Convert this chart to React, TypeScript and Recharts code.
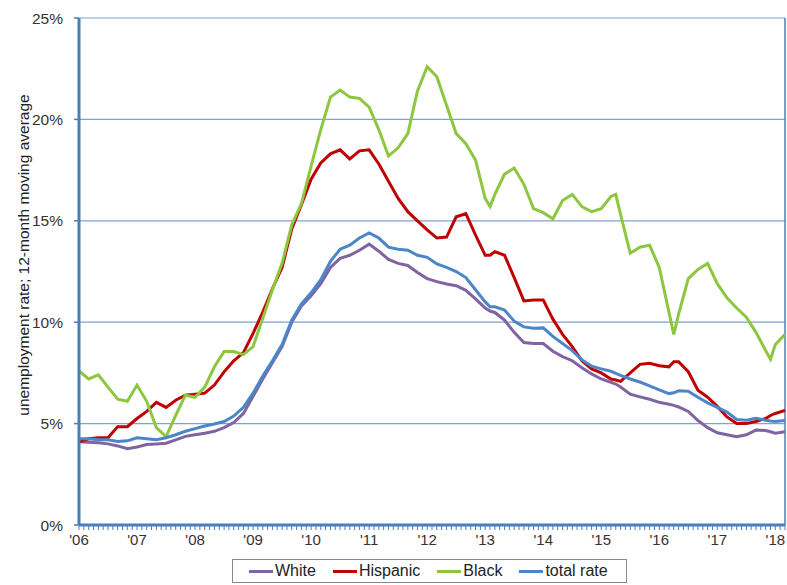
import React from "react";
import {
  LineChart,
  Line,
  XAxis,
  YAxis,
  CartesianGrid,
  Legend,
  Label,
  ReferenceLine
} from "recharts";

// months since Jan 2006 (sampled every 2 months, with a few extra points at sharp turns)
const months = [
  0, 2, 4, 6, 8, 10, 12, 14, 16, 18, 20, 22, 24, 26, 28, 30, 32, 34, 36, 38,
  40, 42, 44, 46, 48, 50, 52, 54, 56, 58, 60, 62, 64, 66, 68, 70, 72, 74, 76, 78,
  80, 82, 84, 85, 86, 88, 90, 92, 94, 96, 98, 100, 102, 104, 106, 108, 110, 111,
  112, 114, 116, 118, 120, 122, 123, 124, 126, 128, 130, 132, 134, 136, 138, 140,
  142, 143, 144, 146
];

const white = [
  4.1, 4.08, 4.05, 4.0, 3.9, 3.76, 3.85, 3.97, 4.0, 4.03, 4.2, 4.37, 4.45, 4.52, 4.62, 4.8, 5.05, 5.5, 6.35, 7.2,
  8.0, 8.8, 10.0, 10.8, 11.3, 11.9, 12.7, 13.15, 13.3, 13.55, 13.85, 13.5, 13.1, 12.9, 12.8, 12.45, 12.15, 12.0, 11.88, 11.8,
  11.57, 11.15, 10.7, 10.55, 10.48, 10.1, 9.5, 9.0, 8.95, 8.95, 8.57, 8.3, 8.1, 7.75, 7.45, 7.2, 7.03, 6.95,
  6.8, 6.45, 6.32, 6.2, 6.05, 5.95, 5.9, 5.82, 5.6, 5.15, 4.8, 4.55, 4.45, 4.35, 4.45, 4.68,
  4.66, 4.6, 4.53, 4.6
];

const hispanic = [
  4.1, 4.25, 4.3, 4.3, 4.85, 4.85, 5.25, 5.6, 6.05, 5.8, 6.15, 6.4, 6.45, 6.5, 6.9, 7.55, 8.1, 8.5, 9.45, 10.5,
  11.65, 12.7, 14.6, 15.8, 17.05, 17.85, 18.3, 18.5, 18.05, 18.45, 18.5, 17.8, 16.95, 16.1, 15.45, 15.0, 14.55, 14.15, 14.2, 15.2,
  15.35, 14.3, 13.3, 13.3, 13.48, 13.3, 12.2, 11.05, 11.1, 11.1, 10.15, 9.4, 8.8, 8.1, 7.7, 7.5, 7.2, 7.15,
  7.08, 7.5, 7.92, 7.97, 7.85, 7.8, 8.05, 8.05, 7.56, 6.65, 6.3, 5.85, 5.33, 5.0, 5.0, 5.1,
  5.25, 5.4, 5.5, 5.65
];

const black = [
  7.6, 7.2, 7.4, 6.8, 6.2, 6.1, 6.9, 6.1, 4.8, 4.35, 5.4, 6.4, 6.3, 6.8, 7.8, 8.55, 8.55, 8.4, 8.8, 10.2,
  11.6, 12.9, 14.8, 15.85, 17.7, 19.5, 21.1, 21.45, 21.1, 21.04, 20.6, 19.5, 18.2, 18.6, 19.3, 21.4, 22.6, 22.1, 20.7, 19.3,
  18.8, 18.0, 16.1, 15.7, 16.3, 17.3, 17.6, 16.8, 15.6, 15.4, 15.1, 16.0, 16.3, 15.7, 15.45, 15.6, 16.2, 16.3,
  15.3, 13.4, 13.7, 13.8, 12.7, 10.5, 9.4, 10.4, 12.15, 12.6, 12.9, 11.9, 11.2, 10.7, 10.25, 9.5,
  8.6, 8.17, 8.9, 9.4
];

const total = [
  4.25, 4.25, 4.2, 4.2, 4.12, 4.15, 4.3, 4.25, 4.2, 4.3, 4.45, 4.62, 4.75, 4.88, 4.98, 5.1, 5.37, 5.8, 6.5, 7.35,
  8.1, 8.9, 10.1, 10.9, 11.45, 12.1, 13.0, 13.6, 13.8, 14.15, 14.4, 14.15, 13.7, 13.6, 13.55, 13.3, 13.2, 12.87, 12.7, 12.5,
  12.2, 11.6, 11.0, 10.76, 10.76, 10.6, 10.05, 9.77, 9.7, 9.72, 9.3, 8.95, 8.6, 8.15, 7.83, 7.7, 7.58, 7.48,
  7.38, 7.2, 7.05, 6.86, 6.66, 6.48, 6.52, 6.62, 6.6, 6.3, 6.02, 5.8, 5.57, 5.2, 5.17, 5.26,
  5.17, 5.13, 5.1, 5.15
];

const yTicks = [0, 5, 10, 15, 20, 25];
const firstYear = 6;
const lastMonth = 146;

const series = [
  { key: "white", name: "White", color: "#8064A2" },
  { key: "hispanic", name: "Hispanic", color: "#C00000" },
  { key: "black", name: "Black", color: "#8DC63F" },
  { key: "total", name: "total rate", color: "#4A86C8" }
];

const rows = months.map((m, i) => ({
  m,
  white: white[i],
  hispanic: hispanic[i],
  black: black[i],
  total: total[i]
}));

const monthTicks = Array.from({ length: lastMonth + 1 }, (_, i) => i);

const FONT = '"Liberation Sans", Arial, sans-serif';
const AXIS_BLUE = "#4A7EBB";
const GRID_BLUE = "#7FA2D1";

const yearLabel = (m: number) =>
  m % 12 === 0 ? "'" + String(firstYear + m / 12).padStart(2, "0") : "";

const LegendBox = () => (
  <div
    style={{
      boxSizing: "border-box",
      height: 24,
      border: "1px solid #8a8a8a",
      display: "flex",
      alignItems: "center",
      paddingLeft: 16,
      gap: 17,
      fontFamily: FONT,
      fontSize: 16,
      color: "#222",
      background: "#fff"
    }}
  >
    {series.map((s) => (
      <div key={s.key} style={{ display: "flex", alignItems: "center" }}>
        <span
          style={{
            display: "inline-block",
            width: 24,
            height: 3,
            background: s.color,
            marginRight: 2
          }}
        />
        {s.name}
      </div>
    ))}
  </div>
);

export default function App() {
  return (
    <div
      style={{
        position: "absolute",
        left: 0,
        top: 0,
        width: 787,
        height: 585,
        overflow: "hidden",
        background: "#fff"
      }}
    >
      <LineChart
        width={787}
        height={585}
        data={rows}
        margin={{ top: 18, right: 2, left: 0, bottom: 2 }}
      >
        <CartesianGrid vertical={false} stroke={GRID_BLUE} strokeWidth={1.2} />
        <XAxis
          type="number"
          dataKey="m"
          domain={[0, lastMonth]}
          ticks={monthTicks}
          interval={0}
          tickFormatter={yearLabel}
          height={34}
          axisLine={{ stroke: AXIS_BLUE, strokeWidth: 3 }}
          tickLine={{ stroke: AXIS_BLUE, strokeWidth: 1 }}
          tickSize={5}
          tickMargin={4}
          tick={{ fill: "#333", fontSize: 15, fontFamily: FONT }}
        />
        <YAxis
          type="number"
          domain={[0, 25]}
          ticks={yTicks}
          width={79}
          tickFormatter={(v: number) => v + "%"}
          axisLine={{ stroke: AXIS_BLUE, strokeWidth: 3 }}
          tickLine={{ stroke: AXIS_BLUE, strokeWidth: 1.5 }}
          tickSize={5}
          tickMargin={11}
          tick={{ fill: "#333", fontSize: 15.5, fontFamily: FONT }}
        >
          <Label
            content={() => (
              <text
                x={23}
                y={255}
                transform="rotate(-90 23 255)"
                textAnchor="middle"
                dominantBaseline="central"
                fill="#222"
                fontSize={15.5}
                fontFamily={FONT}
              >
                unemployment rate; 12-month moving average
              </text>
            )}
          />
        </YAxis>
        <ReferenceLine x={lastMonth} stroke={AXIS_BLUE} strokeWidth={1.5} />
        <Legend
          content={<LegendBox />}
          wrapperStyle={{ left: 232, width: 395, bottom: 2 }}
        />
        {series.map((s) => (
          <Line
            key={s.key}
            type="linear"
            dataKey={s.key}
            name={s.name}
            stroke={s.color}
            strokeWidth={3}
            dot={false}
            isAnimationActive={false}
          />
        ))}
      </LineChart>
    </div>
  );
}
